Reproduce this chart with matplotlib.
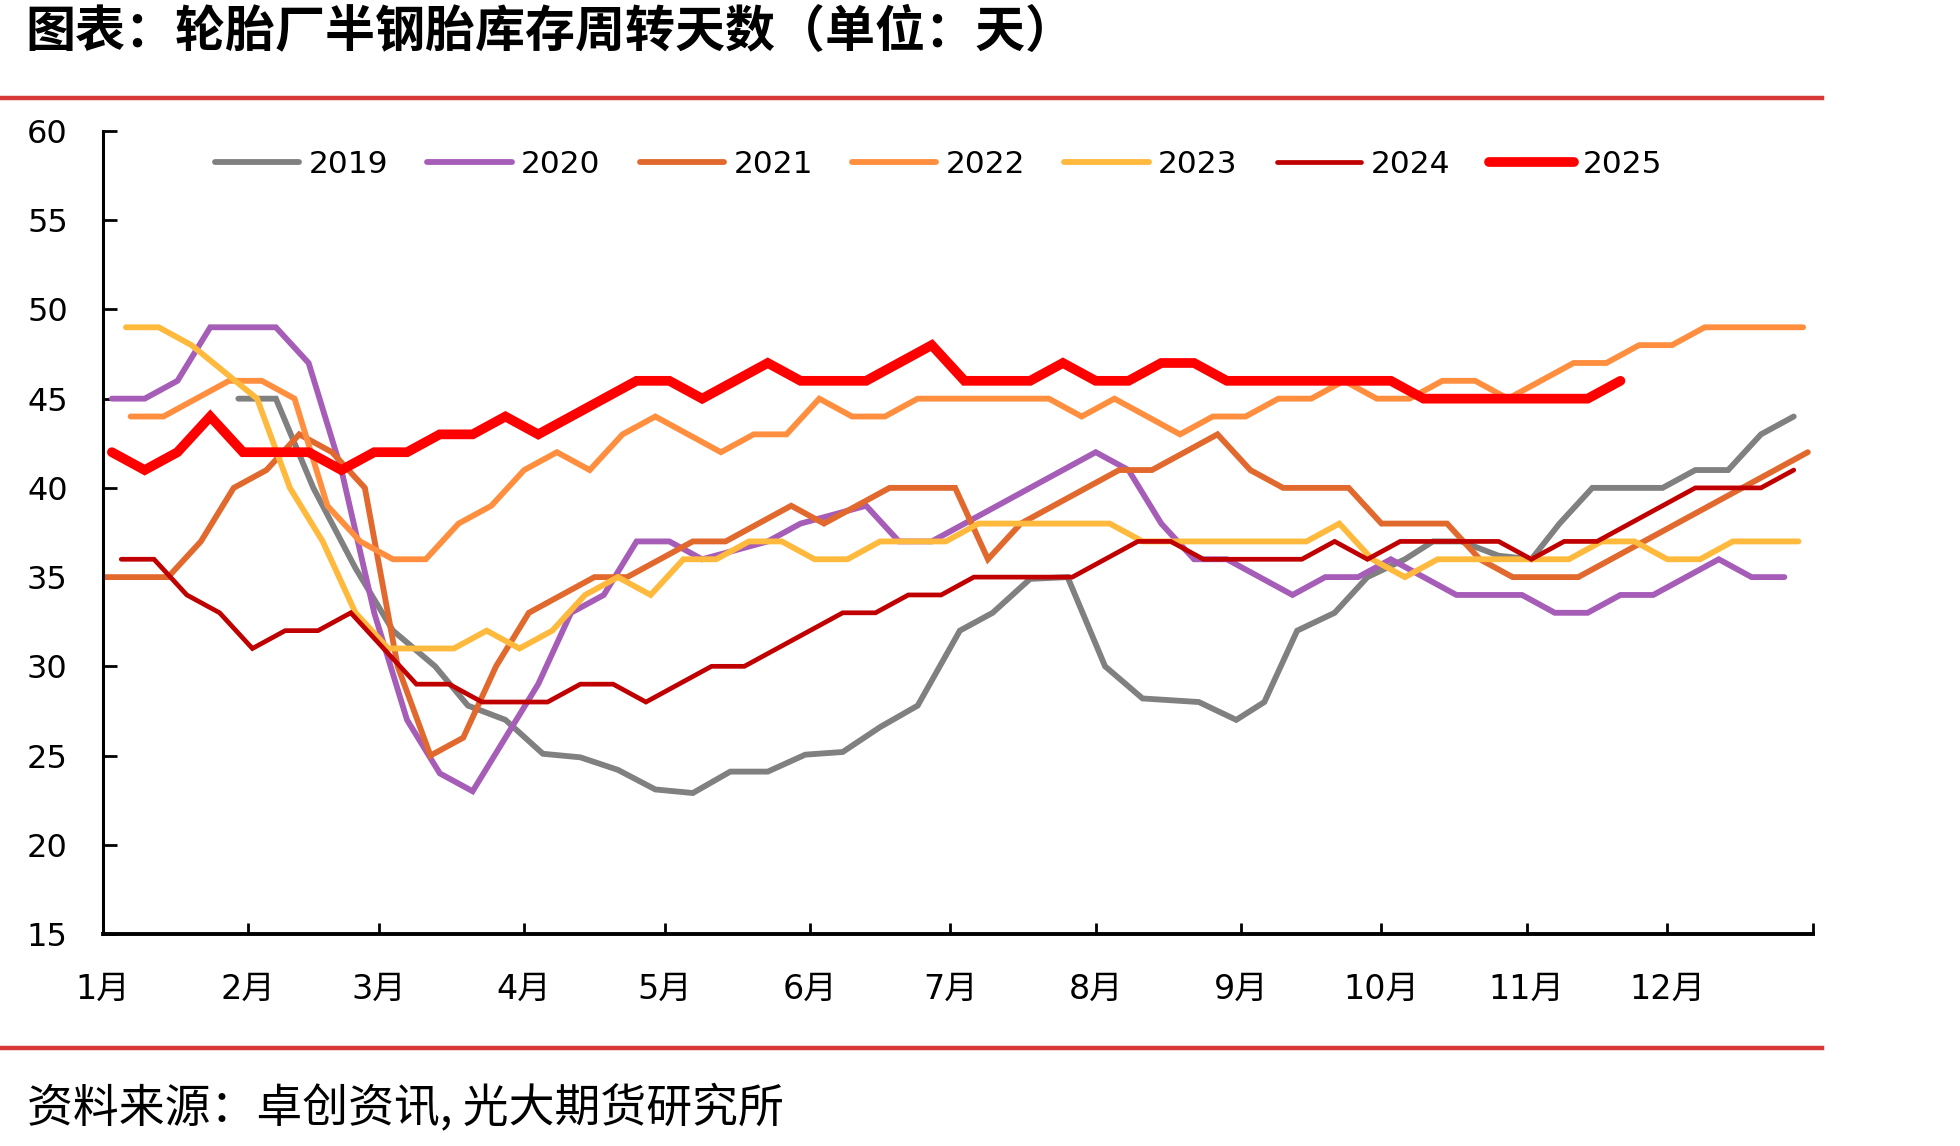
import matplotlib
matplotlib.use('Agg')
import matplotlib.pyplot as plt
from matplotlib.lines import Line2D
import pandas as pd

plt.rcParams['font.family'] = ['DejaVu Sans', 'Noto Sans CJK SC']

title = '图表：轮胎厂半钢胎库存周转天数（单位：天）'
source = '资料来源：卓创资讯, 光大期货研究所'

month_labels = [f'{m}月' for m in range(1, 13)]
month_starts = ['01-01', '02-01', '03-01', '04-01', '05-01', '06-01',
                '07-01', '08-01', '09-01', '10-01', '11-01', '12-01']

years = ['2019', '2020', '2021', '2022', '2023', '2024', '2025']
colors = ['#808080', '#A65DB8', '#E2692E', '#FF8F3F', '#FFB93D', '#C00000', '#FF0000']
widths = [4.2, 4.2, 4.2, 4.2, 4.2, 3.4, 7.0]

# 2019 is not on a regular weekly grid in the source, so keep its dates
dates_2019 = ['01-30', '02-07', '02-15', '02-24', '03-04', '03-13', '03-20', '03-28',
              '04-05', '04-13', '04-21', '04-29', '05-07', '05-15', '05-23', '05-31',
              '06-08', '06-16', '06-24', '07-03', '07-10', '07-18', '07-26', '08-03',
              '08-11', '08-17', '08-23', '08-31', '09-06', '09-13', '09-21', '09-28',
              '10-06', '10-12', '10-18', '10-26', '11-02', '11-08', '11-15', '11-22',
              '11-30', '12-07', '12-14', '12-21', '12-28']
v2019 = [45, 45, 40, 35.5, 32, 30, 27.8, 27, 25.1, 24.9, 24.2, 23.1, 22.9, 24.1, 24.1,
         25.05, 25.2, 26.6, 27.8, 32, 33, 34.9, 35, 30, 28.2, 28.1, 28, 27, 28, 32,
         33, 35, 36, 37, 37, 36.2, 36, 38, 40, 40, 40, 41, 41, 43, 44]

# weekly series: first date of each year
first_dates = {'2020': '2020-01-03', '2021': '2021-01-01', '2022': '2022-01-07',
               '2023': '2023-01-06', '2024': '2024-01-05', '2025': '2025-01-03'}

v2020 = [45, 45, 46, 49, 49, 49, 47, 41, 33, 27, 24, 23, 26, 29, 33, 34, 37, 37, 36, 36.5,
         37, 38, 38.5, 39, 37, 37, 38, 39, 40, 41, 42, 41, 38, 36, 36, 35, 34, 35, 35, 36,
         35, 34, 34, 34, 33, 33, 34, 34, 35, 36, 35, 35]
v2021 = [35, 35, 35, 37, 40, 41, 43, 42, 40, 30, 25, 26, 30, 33, 34, 35, 35, 36, 37, 37,
         38, 39, 38, 39, 40, 40, 40, 36, 38, 39, 40, 41, 41, 42, 43, 41, 40, 40, 40, 38,
         38, 38, 36, 35, 35, 35, 36, 37, 38, 39, 40, 41, 42]
v2022 = [44, 44, 45, 46, 46, 45, 39, 37, 36, 36, 38, 39, 41, 42, 41, 43, 44, 43, 42, 43,
         43, 45, 44, 44, 45, 45, 45, 45, 45, 44, 45, 44, 43, 44, 44, 45, 45, 46, 45, 45,
         46, 46, 45, 46, 47, 47, 48, 48, 49, 49, 49, 49]
v2023 = [49, 49, 48, 46.5, 45, 40, 37, 33, 31, 31, 31, 32, 31, 32, 34, 35, 34, 36, 36, 37,
         37, 36, 36, 37, 37, 37, 38, 38, 38, 38, 38, 37, 37, 37, 37, 37, 37, 38, 36, 35,
         36, 36, 36, 36, 36, 37, 37, 36, 36, 37, 37, 37]
v2024 = [36, 36, 34, 33, 31, 32, 32, 33, 31, 29, 29, 28, 28, 28, 29, 29, 28, 29, 30, 30,
         31, 32, 33, 33, 34, 34, 35, 35, 35, 35, 36, 37, 37, 36, 36, 36, 36, 37, 36, 37,
         37, 37, 37, 36, 37, 37, 38, 39, 40, 40, 40, 41]
v2025 = [42, 41, 42, 44, 42, 42, 42, 41, 42, 42, 43, 43, 44, 43, 44, 45, 46, 46, 45, 46,
         47, 46, 46, 46, 47, 48, 46, 46, 46, 47, 46, 46, 47, 47, 46, 46, 46, 46, 46, 46,
         45, 45, 45, 45, 45, 45, 46]

values = {'2019': v2019, '2020': v2020, '2021': v2021, '2022': v2022,
          '2023': v2023, '2024': v2024, '2025': v2025}


def day_of_year(dates, year):
    return list((pd.DatetimeIndex(dates) - pd.Timestamp(f'{year}-01-01')).days)


fig = plt.figure(figsize=(19.6, 11.46), dpi=100)
ax = fig.add_axes([102.5 / 1960, 1 - 934 / 1146, 1710 / 1960, 803 / 1146])

for year, color, lw in zip(years, colors, widths):
    vals = values[year]
    if year == '2019':
        dates = pd.to_datetime([f'2019-{d}' for d in dates_2019])
    else:
        dates = pd.date_range(first_dates[year], periods=len(vals), freq='7D')
    ax.plot(day_of_year(dates, year), vals, color=color, lw=lw, label=year,
            solid_joinstyle='miter', solid_capstyle='round')

month_x = day_of_year(pd.to_datetime([f'2021-{m}' for m in month_starts]), 2021)
ax.set_xlim(0, 365)
ax.set_ylim(15, 60)
ax.set_xticks(month_x + [365])
ax.set_xticklabels(month_labels + [''])
ax.set_yticks(range(15, 61, 5))

for s in ['top', 'right']:
    ax.spines[s].set_visible(False)
ax.spines['left'].set_linewidth(2.2)
ax.spines['bottom'].set_linewidth(2.8)
ax.tick_params(axis='y', direction='in', length=10, width=2, labelsize=23, pad=25)
ax.tick_params(axis='x', direction='in', length=8, width=2, labelsize=24, pad=28)

leg = ax.legend(loc='center', bbox_to_anchor=(0.489, 0.958), ncol=7, frameon=False,
                fontsize=22.5, handlelength=2.7, handletextpad=0.3, columnspacing=1.25)

fig.text(25 / 1960, 1 - 32 / 1146, title, fontsize=36, fontweight='bold',
         family=['Noto Sans CJK SC'], ha='left', va='center')
fig.text(27 / 1960, 1 - 1109 / 1146, source, fontsize=33,
         family=['Noto Sans CJK SC'], ha='left', va='center', style='italic')

red = '#D9383A'
fig.add_artist(Line2D([0, 1822 / 1960], [1 - 97.5 / 1146] * 2, color=red, lw=3.2))
fig.add_artist(Line2D([0, 1822 / 1960], [1 - 1048 / 1146] * 2, color=red, lw=3.2))

fig.savefig('out.png', dpi=100)
